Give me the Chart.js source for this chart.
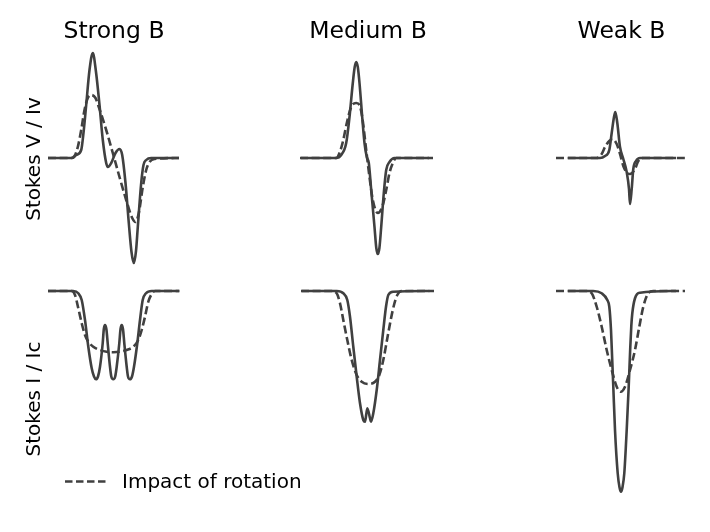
<!DOCTYPE html>
<html>
<head>
<meta charset="utf-8">
<script src="https://cdn.jsdelivr.net/npm/chart.js@4/dist/chart.umd.min.js"></script>
<style>
  body { margin: 0; background: #fff; }
  #fig { position: relative; width: 710px; height: 532px; overflow: hidden; font-family: "DejaVu Sans", sans-serif; color: #000; }
  #fig canvas { position: absolute; }
  .title { position: absolute; font-size: 23.5px; line-height: 1; white-space: nowrap; transform: translateX(-50%); }
  .ylab { position: absolute; font-size: 20px; line-height: 1; white-space: nowrap; transform: translate(-50%, -50%) rotate(-90deg); }
  .legend { position: absolute; left: 62px; top: 471px; font-size: 20px; line-height: 1; white-space: nowrap; }
  .legend svg { vertical-align: top; margin-right: 14px; }
</style>
</head>
<body>
<div id="fig"></div>
<script>
// column titles and row labels
const titles = ['Strong B', 'Medium B', 'Weak B'];
const rowLabels = ['Stokes V / Iv', 'Stokes I / Ic'];
const legendLabel = 'Impact of rotation';

// Stokes V / Iv profiles: [velocity, value]
const strongV = [[-65,0],[-40.5,0],[-36.8,0.003],[-31.8,0.008],[-29.3,0.027],[-26.8,0.053],[-23.5,0.088],[-20.2,0.105],[-17,0.086],[-13.5,0.053],[-10.2,0.018],[-6.8,-0.005],[-5.2,-0.009],[-1.8,-0.005],[2.5,0.005],[6.5,0.009],[9.2,0.003],[12.5,-0.025],[15.8,-0.065],[18.5,-0.094],[20.8,-0.105],[23,-0.093],[24.8,-0.069],[28.2,-0.025],[30.5,-0.007],[33.2,-0.002],[38.2,0],[66,0]];
const strongVRot = [[-65,0],[-41.8,0],[-38.5,0.002],[-35.2,0.011],[-31.8,0.028],[-28.5,0.048],[-25.2,0.060],[-21.8,0.063],[-17.5,0.060],[-14.2,0.051],[-6.8,0.028],[-0.2,0.005],[6.5,-0.019],[13.2,-0.042],[19.2,-0.060],[22.5,-0.064],[25.8,-0.055],[29.8,-0.029],[33.2,-0.012],[36.5,-0.004],[41.5,-0.001],[66,0]];
const mediumV = [[-66,0],[-30.8,0],[-25.8,0.003],[-20.8,0.015],[-17.5,0.041],[-14.2,0.075],[-12.3,0.091],[-10.8,0.096],[-9.2,0.091],[-7.5,0.075],[-4.8,0.041],[-2.5,0.015],[-0.2,0.001],[1.8,-0.005],[4.2,-0.032],[7.5,-0.069],[9.3,-0.090],[10.8,-0.096],[12.4,-0.090],[14.2,-0.069],[16.8,-0.035],[19.2,-0.012],[22.5,-0.004],[27.5,0],[62,0]];
const mediumVRot = [[-67,0],[-30.8,0],[-27.5,0.005],[-24.2,0.016],[-20.2,0.035],[-15.8,0.051],[-10.8,0.055],[-7.5,0.053],[-4.8,0.041],[-0.8,0.008],[2.5,-0.019],[5.8,-0.042],[10.8,-0.055],[15.2,-0.049],[19.2,-0.032],[22.5,-0.015],[25.8,-0.005],[29.2,0],[66,0]];
const weakV = [[-54,0],[-22,0],[-17,0.002],[-12.7,0.008],[-10.3,0.025],[-8,0.041],[-6.7,0.046],[-4.7,0.035],[-2,0.011],[1.3,-0.001],[4.7,-0.014],[7,-0.031],[8,-0.046],[9.7,-0.031],[11.3,-0.011],[14,-0.003],[18,0],[54,0]];
const weakVRot = [[-66,0],[-25.3,0],[-20.3,0.004],[-17,0.011],[-12.7,0.017],[-9.3,0.019],[-5.3,0.014],[-2,0.004],[1.3,-0.008],[4.5,-0.014],[8,-0.016],[13,-0.011],[16.3,-0.003],[21.3,0],[63,0]];

// Stokes I / Ic profiles: [velocity, value]
const strongI = [[-65,1],[-39.7,1],[-34.7,0.991],[-31.3,0.964],[-28,0.884],[-24.7,0.777],[-21.3,0.691],[-19,0.658],[-17,0.647],[-15,0.658],[-13,0.697],[-10.3,0.791],[-9.2,0.847],[-8,0.864],[-6.6,0.847],[-5.3,0.791],[-3,0.697],[-1.7,0.658],[0.3,0.647],[2.2,0.658],[3.7,0.697],[6.3,0.791],[7.5,0.847],[8.7,0.864],[10,0.847],[11.3,0.791],[13.7,0.697],[15,0.658],[17,0.647],[19,0.658],[21,0.697],[24.3,0.791],[27,0.884],[29.7,0.964],[33,0.991],[38.7,1],[66.3,1]];
const strongIRot = [[-65,1],[-41.3,1],[-38,0.984],[-34.7,0.931],[-31.3,0.871],[-28,0.824],[-24.7,0.797],[-19.7,0.777],[-13,0.764],[-6.3,0.757],[0.3,0.755],[7,0.757],[13.7,0.764],[20.3,0.777],[25.3,0.804],[28.7,0.844],[32,0.897],[35.3,0.957],[38.7,0.988],[42,1],[66.3,1]];
const mediumI = [[-66.3,1],[-31.3,1],[-24.7,0.991],[-20.7,0.964],[-18,0.897],[-14.7,0.777],[-11.3,0.657],[-8,0.551],[-4.7,0.484],[-3,0.477],[-0.7,0.531],[2,0.491],[3,0.477],[5.3,0.511],[8.7,0.604],[12,0.724],[15.3,0.844],[18,0.937],[20.3,0.984],[25.3,0.997],[61.3,1]];
const mediumIRot = [[-67,1],[-36.3,1],[-31.3,0.991],[-28,0.951],[-24.7,0.884],[-20.7,0.804],[-16.3,0.724],[-11.3,0.664],[-6.3,0.637],[0.3,0.628],[7,0.637],[11.3,0.664],[15.3,0.724],[19,0.804],[22.7,0.884],[26,0.944],[29.3,0.984],[33.7,1],[66,1]];
const weakI = [[-53,1],[-27.7,1],[-19.3,0.991],[-13.7,0.964],[-11.7,0.937],[-10,0.844],[-9.3,0.777],[-7.7,0.617],[-6,0.444],[-3.3,0.271],[-1.5,0.215],[0,0.197],[1.5,0.215],[3.3,0.271],[5.7,0.444],[7.7,0.617],[9.3,0.777],[10.3,0.86],[11.3,0.911],[14,0.971],[19,0.993],[55,1]];
const weakIRot = [[-65,1],[-34.3,1],[-29.3,0.991],[-24.3,0.937],[-19.3,0.857],[-14.3,0.764],[-9.3,0.684],[-4.3,0.617],[-0.3,0.597],[4,0.617],[9,0.684],[14,0.764],[18.3,0.857],[22.3,0.937],[27.3,0.991],[32.3,1],[64,1]];

const lineColor = '#404040';
const fig = document.getElementById('fig');

const panels = [
    { solid: strongV, rot: strongVRot, left: 38, top: 40, h: 240, ymin: -0.122, ymax: 0.118 },
    { solid: mediumV, rot: mediumVRot, left: 292, top: 40, h: 240, ymin: -0.122, ymax: 0.118 },
    { solid: weakV, rot: weakVRot, left: 547, top: 40, h: 240, ymin: -0.122, ymax: 0.118 },
    { solid: strongI, rot: strongIRot, left: 38, top: 280, h: 225, ymin: 0.144, ymax: 1.044 },
    { solid: mediumI, rot: mediumIRot, left: 293, top: 280, h: 225, ymin: 0.144, ymax: 1.044 },
    { solid: weakI, rot: weakIRot, left: 546, top: 280, h: 225, ymin: 0.144, ymax: 1.044 }
];

const toPts = arr => arr.map(p => ({ x: p[0], y: p[1] }));

panels.forEach(p => {
    const cv = document.createElement('canvas');
    cv.width = 150;
    cv.height = p.h;
    cv.style.left = p.left + 'px';
    cv.style.top = p.top + 'px';
    cv.style.width = '150px';
    cv.style.height = p.h + 'px';
    fig.appendChild(cv);

    new Chart(cv, {
        type: 'line',
        data: {
            datasets: [
                {
                    data: toPts(p.rot),
                    borderColor: lineColor,
                    borderWidth: 2.6,
                    borderDash: [8, 3.6],
                    pointRadius: 0,
                    fill: false,
                    cubicInterpolationMode: 'monotone'
                },
                {
                    data: toPts(p.solid),
                    borderColor: lineColor,
                    borderWidth: 2.6,
                    borderJoinStyle: 'round',
                    pointRadius: 0,
                    fill: false,
                    cubicInterpolationMode: 'monotone'
                }
            ]
        },
        options: {
            responsive: false,
            animation: false,
            events: [],
            layout: { padding: 0 },
            plugins: { legend: { display: false }, tooltip: { enabled: false } },
            scales: {
                x: { type: 'linear', display: false, min: -75, max: 75 },
                y: { display: false, min: p.ymin, max: p.ymax }
            }
        }
    });
});

// titles
const titleX = [114, 368, 621.5];
titles.forEach((t, i) => {
    const d = document.createElement('div');
    d.className = 'title';
    d.textContent = t;
    d.style.left = titleX[i] + 'px';
    d.style.top = '19px';
    fig.appendChild(d);
});

// row labels
const labelY = [158.5, 398.5];
rowLabels.forEach((t, i) => {
    const d = document.createElement('div');
    d.className = 'ylab';
    d.textContent = t;
    d.style.left = '33px';
    d.style.top = labelY[i] + 'px';
    fig.appendChild(d);
});

// legend
const lg = document.createElement('div');
lg.className = 'legend';
lg.innerHTML = '<svg width="46" height="20"><line x1="3" y1="10.5" x2="44" y2="10.5" stroke="' + lineColor +
    '" stroke-width="2.4" stroke-dasharray="7.5 3.5"/></svg>';
lg.appendChild(document.createTextNode(legendLabel));
fig.appendChild(lg);
</script>
</body>
</html>
